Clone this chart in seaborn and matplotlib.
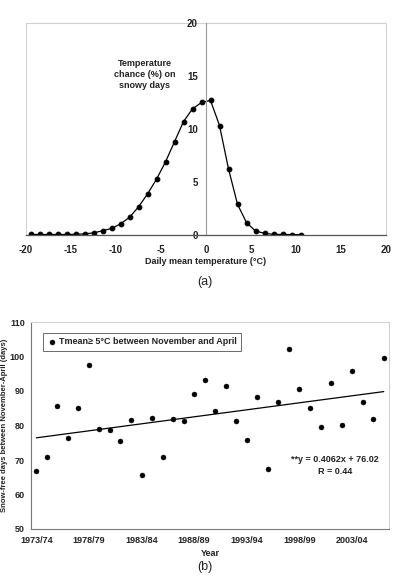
import numpy as np
import pandas as pd
import matplotlib
matplotlib.use("Agg")
import matplotlib.pyplot as plt
import seaborn as sns
from matplotlib.patches import Rectangle

sns.set_style("white")
plt.rcParams['font.family'] = ['Liberation Sans', 'DejaVu Sans']
plt.rcParams['axes.unicode_minus'] = False

# (a) temperature chance on snowy days
temp_c = [-19.5, -18.5, -17.5, -16.5, -15.5, -14.5, -13.5, -12.5, -11.5, -10.5,
          -9.5, -8.5, -7.5, -6.5, -5.5, -4.5, -3.5, -2.5, -1.5, -0.5,
          0.5, 1.5, 2.5, 3.5, 4.5, 5.5, 6.5, 7.5, 8.5, 9.5, 10.5]
chance_pct = [0.05, 0.05, 0.05, 0.05, 0.05, 0.07, 0.1, 0.2, 0.4, 0.62,
              1.04, 1.67, 2.65, 3.87, 5.26, 6.9, 8.8, 10.7, 11.9, 12.5,
              12.7, 10.33, 6.24, 2.9, 1.17, 0.38, 0.16, 0.06, 0.05, 0.04, 0.04]

# (b) snow-free days per winter season
season_idx = list(range(1, 35))
snowfree_days = [66.9, 70.8, 85.6, 76.3, 85.0, 97.6, 79.1, 78.7, 75.5, 81.7,
                 65.7, 82.2, 71.0, 81.9, 81.2, 89.0, 93.1, 84.2, 91.5, 81.2,
                 75.9, 88.2, 67.5, 86.9, 102.3, 90.5, 85.0, 79.7, 92.3, 80.2,
                 95.7, 86.7, 81.9, 99.5]
year_ticks = [1, 6, 11, 16, 21, 26, 31]
year_labels = ['1973/74', '1978/79', '1983/84', '1988/89', '1993/94', '1998/99', '2003/04']
slope, intercept = 0.4062, 76.02

fig = plt.figure(figsize=(3.94, 5.79), dpi=100)
fs = 6.5

# ---------- (a) ----------
ax1 = fig.add_axes([26/394, 1 - 235/579, 360/394, 212/579])
df_a = pd.DataFrame({'t': temp_c, 'p': chance_pct})
sns.lineplot(data=df_a, x='t', y='p', ax=ax1, color='black', lw=0.9,
             marker='o', markersize=3.4, markeredgecolor='black')
ax1.set_xlim(-20, 20)
ax1.set_ylim(0, 20)
for s in ['top', 'right']:
    ax1.spines[s].set_visible(False)
ax1.spines['left'].set_position(('data', 0))
ax1.spines['left'].set_color('#999999')
ax1.spines['left'].set_linewidth(0.8)
ax1.spines['bottom'].set_color('#555555')
ax1.spines['bottom'].set_linewidth(0.9)
ax1.add_patch(Rectangle((0, 0), 1, 1, transform=ax1.transAxes, fill=False,
                        edgecolor='#d0d0d0', lw=0.8, clip_on=False, zorder=0))
ax1.set_xticks(range(-20, 21, 5))
ax1.set_yticks(range(0, 21, 5))
ax1.tick_params(axis='x', direction='out', length=3, width=0.7, color='#555555',
                labelsize=fs + 0.5, pad=4)
ax1.tick_params(axis='y', direction='out', length=3, width=0.7, color='#999999',
                labelsize=fs + 0.5, pad=3)
for lab in ax1.get_xticklabels() + ax1.get_yticklabels():
    lab.set_fontweight('bold')
    lab.set_color('#222222')
ax1.set_xlabel('Daily mean temperature (\u00b0C)', fontsize=fs, fontweight='bold',
               labelpad=2, color='#222222')
ax1.set_ylabel('')
ax1.text(-6.8, 16.6, 'Temperature\nchance (%) on\nsnowy days', ha='center', va='top',
         fontsize=fs, fontweight='bold', color='#222222', linespacing=1.3)
fig.text(205/394, 1 - 282/579, '(a)', ha='center', va='center', fontsize=9, color='#222222')

# ---------- (b) ----------
ax2 = fig.add_axes([31/394, 1 - 529/579, 358/394, 207/579])
df_b = pd.DataFrame({'season': season_idx, 'days': snowfree_days})
df_b['trend'] = slope * df_b['season'] + intercept
sns.scatterplot(data=df_b, x='season', y='days', ax=ax2, color='black', s=13,
                edgecolor='black', linewidth=0.3,
                label='Tmean\u2265 5\u00b0C between November and April')
sns.lineplot(data=df_b, x='season', y='trend', ax=ax2, color='black', lw=0.9,
             legend=False)
ax2.set_xlim(0.5, 34.5)
ax2.set_ylim(50, 110)
for s in ['top', 'right']:
    ax2.spines[s].set_color('#d0d0d0')
    ax2.spines[s].set_linewidth(0.8)
for s in ['left', 'bottom']:
    ax2.spines[s].set_color('#777777')
    ax2.spines[s].set_linewidth(0.8)
ax2.set_yticks(range(50, 111, 10))
ax2.set_xticks(year_ticks)
ax2.set_xticklabels(year_labels)
ax2.set_xticks(np.arange(0.5, 35, 1), minor=True)
ax2.tick_params(axis='x', which='major', length=0, labelsize=fs, pad=5)
ax2.tick_params(axis='x', which='minor', direction='out', length=3, width=0.6,
                color='#777777')
ax2.tick_params(axis='y', direction='out', length=2.5, width=0.6, color='#777777',
                labelsize=fs, pad=2)
for lab in ax2.get_xticklabels() + ax2.get_yticklabels():
    lab.set_fontweight('bold')
    lab.set_color('#222222')
ax2.set_xlabel('Year', fontsize=fs, fontweight='bold', labelpad=3, color='#222222')
ax2.set_ylabel('Snow-free days between November-April (days)', fontsize=fs - 1,
               fontweight='bold', color='#222222')
ax2.yaxis.set_label_coords(-23/358, 0.5)
ax2.text(29.4, 68.3, '**y = 0.4062x + 76.02\nR = 0.44', ha='center', va='center',
         fontsize=fs, fontweight='bold', color='#222222', linespacing=1.4)
leg = ax2.legend(loc='upper left', bbox_to_anchor=(0.022, 0.97), fontsize=fs,
                 frameon=True, fancybox=False, handletextpad=0.2,
                 handlelength=1.0, borderpad=0.5, markerscale=1.0)
leg.get_frame().set_edgecolor('#444444')
leg.get_frame().set_linewidth(0.7)
for t in leg.get_texts():
    t.set_fontweight('bold')
    t.set_color('#222222')
fig.text(205/394, 1 - 567/579, '(b)', ha='center', va='center', fontsize=9, color='#222222')

fig.savefig('out.png', dpi=100)
